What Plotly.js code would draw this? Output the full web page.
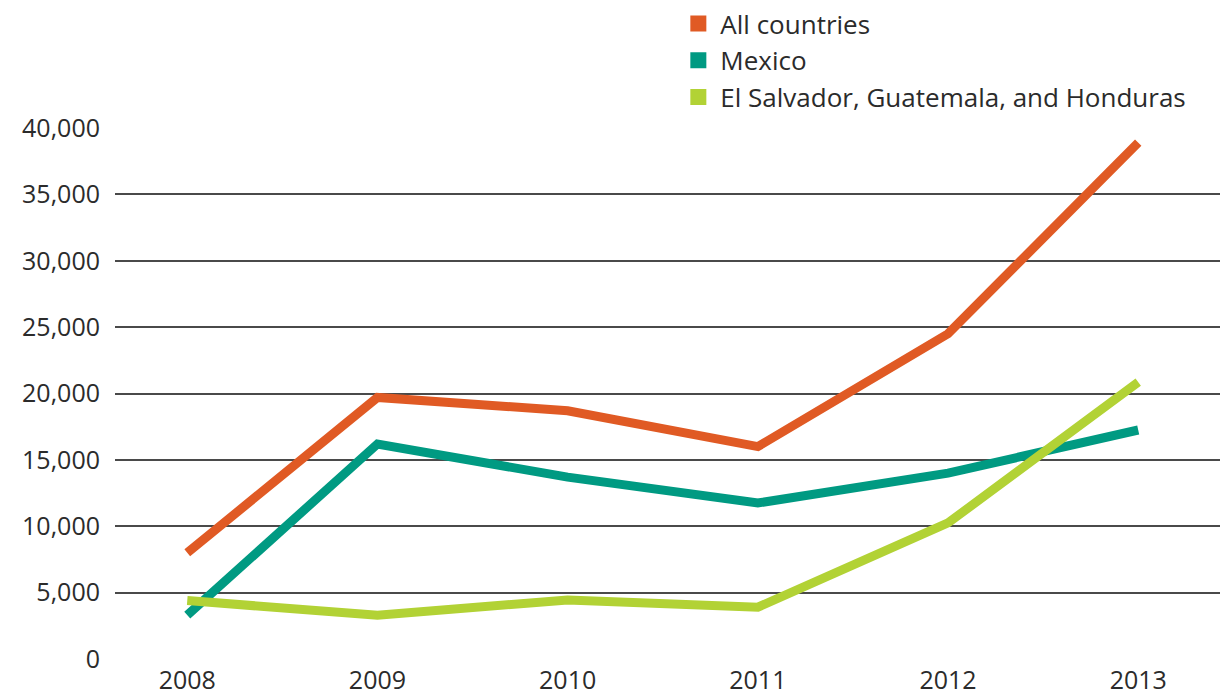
<!DOCTYPE html>
<html><head><meta charset="utf-8">
<script src="https://cdn.plot.ly/plotly-3.0.1.min.js"></script>
<style>body{margin:0;background:#fff}#chart{width:1227px;height:696px}</style>
</head><body><div id="chart"></div>
<script>
const years = ['2008','2009','2010','2011','2012','2013'];
const allCountries = [8000, 19700, 18700, 16000, 24500, 38900];
const mexico = [3300, 16200, 13700, 11750, 14000, 17250];
const esgh = [4400, 3300, 4450, 3900, 10250, 20850];
const seriesNames = ['All countries', 'Mexico', 'El Salvador, Guatemala, and Honduras'];
const colors = ['#E05A24', '#009A82', '#B2D235'];
const seriesData = [allCountries, mexico, esgh];

const traces = [];
seriesData.forEach((vals, i) => {
  traces.push({x: years, y: vals, type: 'scatter', mode: 'lines', name: seriesNames[i],
    line: {color: colors[i], width: 9}, showlegend: false, hoverinfo: 'skip'});
});
seriesNames.forEach((n, i) => {
  traces.push({x: [null], y: [null], type: 'scatter', mode: 'markers', name: n,
    marker: {symbol: 'square', size: 20, color: colors[i]}, showlegend: true});
});

const layout = {
  width: 1227, height: 696,
  margin: {l: 115, r: 7, t: 128, b: 37},
  paper_bgcolor: '#fff', plot_bgcolor: '#fff',
  font: {family: 'Open Sans, sans-serif', color: '#2b2b2b', size: 25},
  xaxis: {type: 'category', range: [-0.38, 5.43], showgrid: false, zeroline: false,
    showline: false, ticks: '', tickfont: {size: 25}, ticklabelstandoff: 4, fixedrange: true},
  yaxis: {range: [0, 40000], tickvals: [0,5000,10000,15000,20000,25000,30000,35000,40000],
    ticktext: ['0','5,000','10,000','15,000','20,000','25,000','30,000','35,000','40,000'],
    showgrid: true, gridcolor: '#4a4a4a', gridwidth: 2, zeroline: false, showline: false,
    ticks: '', ticklabelstandoff: 14, tickfont: {size: 25}, fixedrange: true},
  legend: {x: 0.508, xanchor: 'left', yref: 'container', y: 1.0, yanchor: 'top',
    font: {size: 26, color: '#2b2b2b'}, bgcolor: 'rgba(0,0,0,0)', tracegroupgap: 0, itemwidth: 34},
  showlegend: true
};
Plotly.newPlot('chart', traces, layout, {displayModeBar: false, staticPlot: true});
</script></body></html>
